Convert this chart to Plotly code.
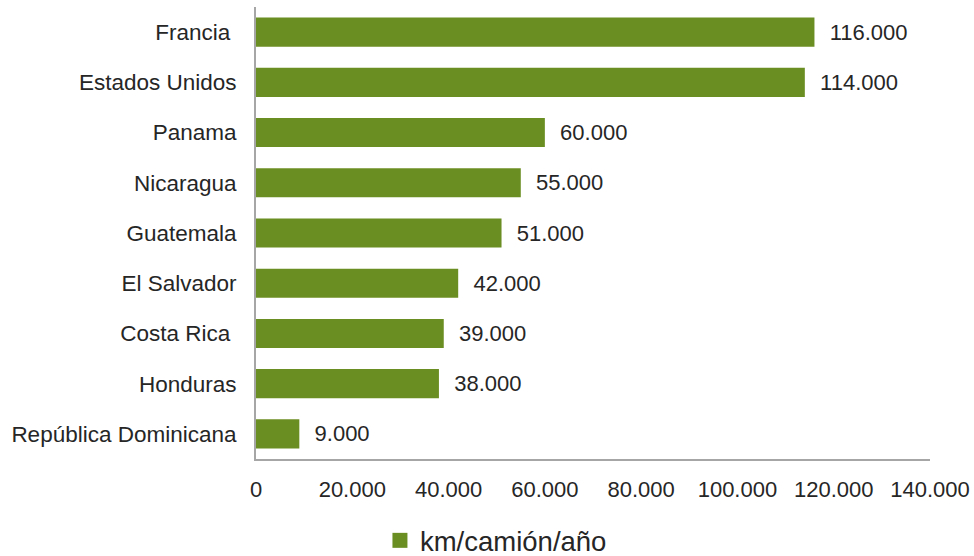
import plotly.graph_objects as go

# Annual kilometres per truck by country (bottom to top as drawn)
countries = ["República Dominicana", "Honduras", "Costa Rica ", "El Salvador",
             "Guatemala", "Nicaragua", "Panama", "Estados Unidos", "Francia "]
km_per_truck = [9000, 38000, 39000, 42000, 51000, 55000, 60000, 114000, 116000]
series_name = "km/camión/año"
x_ticks = [0, 20000, 40000, 60000, 80000, 100000, 120000, 140000]

bar_color = "#6b8e23"
text_color = "#262626"
axis_color = "#a6a6a6"
font_family = "Liberation Sans, Arial, sans-serif"

fig = go.Figure()
fig.add_trace(
    go.Bar(
        x=km_per_truck,
        y=countries,
        orientation="h",
        name=series_name,
        marker=dict(color=bar_color, line=dict(width=0)),
        texttemplate="\u00a0\u00a0%{x:,}",
        textposition="outside",
        textfont=dict(size=22, color=text_color, family=font_family),
        cliponaxis=False,
        showlegend=False,
    )
)
# Legend entry with a larger square swatch
fig.add_trace(
    go.Scatter(
        x=[None],
        y=[None],
        mode="markers",
        name=series_name,
        marker=dict(symbol="square", size=15, color=bar_color),
        showlegend=True,
    )
)

fig.update_layout(
    width=974,
    height=556,
    margin=dict(l=256, r=44, t=7, b=97),
    paper_bgcolor="white",
    plot_bgcolor="white",
    separators=",.",
    bargap=0.42,
    font=dict(family=font_family, size=22.5, color=text_color),
    legend=dict(
        orientation="h",
        x=0.356, xanchor="center",
        yref="container",
        y=0.072, yanchor="top",
        font=dict(size=27.5, color=text_color),
        itemwidth=30,
    ),
)

fig.update_xaxes(
    range=[0, 140000],
    tickvals=x_ticks,
    tickformat=",",
    tickangle=0,
    automargin=False,
    showgrid=False,
    zeroline=False,
    showline=True,
    linecolor=axis_color,
    linewidth=2,
    ticks="",
    ticklabelstandoff=10,
    tickfont=dict(size=22, color=text_color),
)
fig.update_yaxes(
    automargin=False,
    showgrid=False,
    zeroline=False,
    showline=True,
    linecolor=axis_color,
    linewidth=2,
    ticks="",
    ticklabelstandoff=13,
    tickfont=dict(size=22.5, color=text_color),
)

fig.write_html("out.html")
